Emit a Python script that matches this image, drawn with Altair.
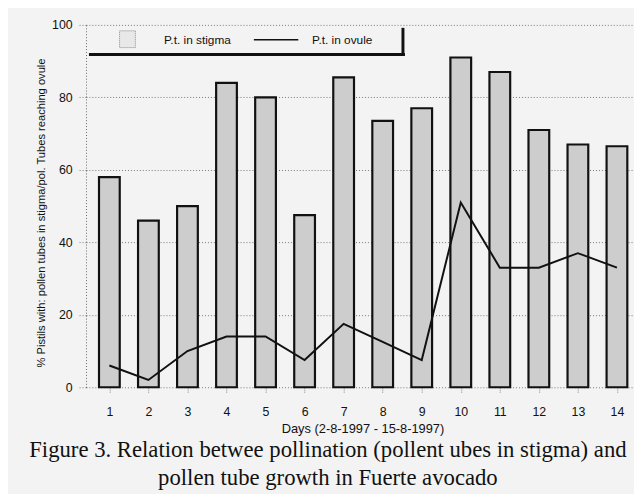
import altair as alt
import pandas as pd

days = list(range(1, 15))
stigma = [58, 46, 50, 84, 80, 47.5, 85.5, 73.5, 77, 91, 87, 71, 67, 66.5]
ovule = [6, 2, 10, 14, 14, 7.5, 17.5, 12.5, 7.5, 51, 33, 33, 37, 33]
legend_labels = ["P.t. in stigma", "P.t. in ovule"]
y_ticks = [0, 20, 40, 60, 80, 100]
x_title = "Days (2-8-1997 - 15-8-1997)"
y_title = "% Pistils with: pollen tubes in stigma/pol.  Tubes reaching ovule"
caption = [
    "Figure 3. Relation betwee pollination (pollent ubes in stigma) and",
    "pollen tube growth in Fuerte avocado",
]

df = pd.DataFrame({"day": days, "stigma": stigma, "ovule": ovule})
one = pd.DataFrame({"a": [0]})

W, H = 554, 367
SANS = "Liberation Sans"
INK = "#111111"

xscale = alt.Scale(domain=[0.528, 14.285], nice=False, zero=False)
yscale = alt.Scale(domain=[0, 100], nice=False)

x_axis = alt.Axis(
    values=days, format="d", title=x_title, grid=False, domain=False,
    tickSize=6, tickColor="#888888", tickDash=[1, 1], tickWidth=1,
    labelPadding=13, labelFontSize=12.5, labelColor=INK, labelFont=SANS,
    titleFont=SANS, titleFontSize=13, titleFontWeight="normal", titleColor=INK,
    titleX=280, titleY=42, titleAlign="center", titleBaseline="middle",
)
y_axis = alt.Axis(
    values=y_ticks, title=y_title, grid=True, gridDash=[1, 2], gridColor="#777777",
    gridWidth=1, gridOpacity=1, domain=True, domainDash=[1, 2], domainColor="#666666",
    tickSize=9, tickDash=[1, 2], tickColor="#777777",
    labelPadding=5, labelFontSize=12.5, labelColor=INK, labelFont=SANS,
    titleFont=SANS, titleFontSize=11.3, titleFontWeight="normal", titleColor=INK,
    titleAngle=270, titleX=-45, titleY=190, titleAlign="center", titleBaseline="middle",
)

bars = alt.Chart(df).mark_bar(
    size=21, fill="#cdcdcd", stroke=INK, strokeWidth=2.2
).encode(
    x=alt.X("day:Q", scale=xscale, axis=x_axis),
    y=alt.Y("stigma:Q", scale=yscale, axis=y_axis),
)

line = alt.Chart(df).mark_line(color=INK, strokeWidth=2).encode(
    x=alt.X("day:Q", scale=xscale),
    y=alt.Y("ovule:Q", scale=yscale),
)

# legend (hand drawn)
patch = alt.Chart(one).mark_rect(
    fill="#e8e8e8", stroke="#888888", strokeDash=[1, 1], strokeWidth=1
).encode(x=alt.value(34), x2=alt.value(50), y=alt.value(6), y2=alt.value(23))
leg_t1 = alt.Chart(one).mark_text(
    align="left", baseline="middle", font=SANS, fontSize=12, color=INK
).encode(x=alt.value(79), y=alt.value(15), text=alt.value(legend_labels[0]))
leg_line = alt.Chart(one).mark_rule(color=INK, strokeWidth=1.5).encode(
    x=alt.value(170), x2=alt.value(215), y=alt.value(15)
)
leg_t2 = alt.Chart(one).mark_text(
    align="left", baseline="middle", font=SANS, fontSize=12, color=INK
).encode(x=alt.value(229), y=alt.value(15), text=alt.value(legend_labels[1]))
shadow_b = alt.Chart(one).mark_rule(color=INK, strokeWidth=3).encode(
    x=alt.value(3), x2=alt.value(323), y=alt.value(30)
)
shadow_r = alt.Chart(one).mark_rule(color=INK, strokeWidth=3).encode(
    x=alt.value(321), y=alt.value(3), y2=alt.value(31)
)

cap1 = alt.Chart(one).mark_text(
    align="center", baseline="alphabetic", font="Liberation Serif", fontSize=23, color=INK
).encode(x=alt.value(245), y=alt.value(438), text=alt.value(caption[0]))
cap2 = alt.Chart(one).mark_text(
    align="center", baseline="alphabetic", font="Liberation Serif", fontSize=23, color=INK
).encode(x=alt.value(245), y=alt.value(466), text=alt.value(caption[1]))

chart = alt.layer(
    bars, line, patch, leg_t1, leg_line, leg_t2, shadow_b, shadow_r, cap1, cap2
).properties(
    width=W, height=H,
    autosize=alt.AutoSizeParams(type="none"),
    padding={"left": 79, "top": 14, "right": 1, "bottom": 105},
    background="#f3f3f3",
).configure_view(stroke=None)

chart.save("out.html", embed_options={"renderer": "svg", "actions": False})
